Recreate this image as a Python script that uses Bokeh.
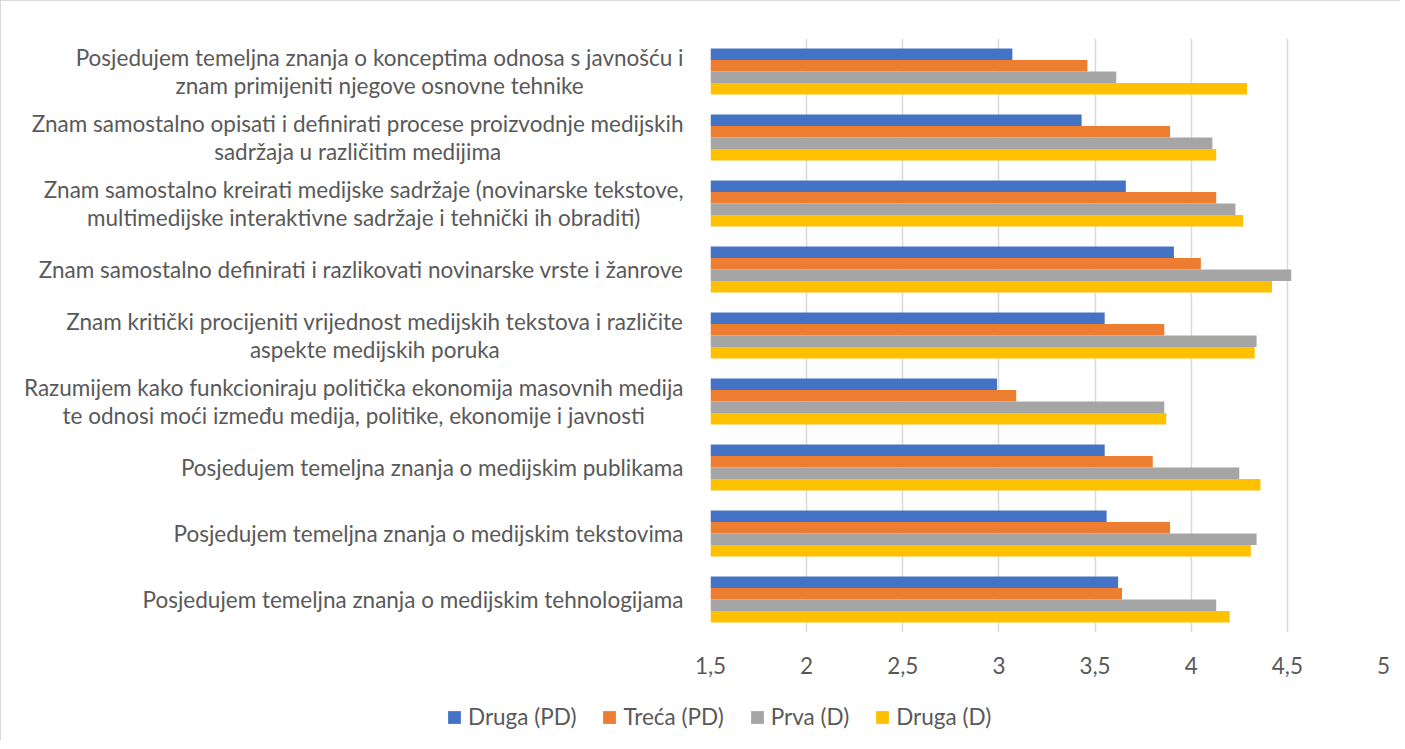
from bokeh.plotting import figure
from bokeh.models import ColumnDataSource, FactorRange, Range1d, FixedTicker, Legend, LegendItem
from bokeh.transform import dodge
from bokeh.core.properties import value
from bokeh.embed import file_html
from bokeh.resources import INLINE

# Categories, listed top to bottom as they appear in the chart
categories = [
    "Posjedujem temeljna znanja o konceptima odnosa s javnošću i\nznam primijeniti njegove osnovne tehnike",
    "Znam samostalno opisati i definirati procese proizvodnje medijskih\nsadržaja u različitim medijima",
    "Znam samostalno kreirati medijske sadržaje (novinarske tekstove,\nmultimedijske interaktivne sadržaje i tehnički ih obraditi)",
    "Znam samostalno definirati i razlikovati novinarske vrste i žanrove",
    "Znam kritički procijeniti vrijednost medijskih tekstova i različite\naspekte medijskih poruka",
    "Razumijem kako funkcioniraju politička ekonomija masovnih medija\nte odnosi moći između medija, politike, ekonomije i javnosti",
    "Posjedujem temeljna znanja o medijskim publikama",
    "Posjedujem temeljna znanja o medijskim tekstovima",
    "Posjedujem temeljna znanja o medijskim tehnologijama",
]

druga_pd = [3.07, 3.43, 3.66, 3.91, 3.55, 2.99, 3.55, 3.56, 3.62]
treca_pd = [3.46, 3.89, 4.13, 4.05, 3.86, 3.09, 3.80, 3.89, 3.64]
prva_d   = [3.61, 4.11, 4.23, 4.52, 4.34, 3.86, 4.25, 4.34, 4.13]
druga_d  = [4.29, 4.13, 4.27, 4.42, 4.33, 3.87, 4.36, 4.31, 4.20]

series_names = ["Druga (PD)", "Treća (PD)", "Prva (D)", "Druga (D)"]
series_colors = ["#4472C4", "#ED7D31", "#A5A5A5", "#FFC000"]

tick_values = [1.5, 2, 2.5, 3, 3.5, 4, 4.5, 5]
tick_labels = ["1,5", "2", "2,5", "3", "3,5", "4", "4,5", "5"]

FONT = "Lato"
FSIZE = "22.5px"
TEXT_COLOR = "#595959"

source = ColumnDataSource(dict(
    cat=categories,
    s0=druga_pd, s1=treca_pd, s2=prva_d, s3=druga_d,
))

p = figure(
    width=1400, height=690,
    y_range=FactorRange(*list(reversed(categories)), range_padding=0),
    x_range=Range1d(1.5, 5),
    output_backend="svg", toolbar_location=None,
    min_border_left=709, min_border_right=18,
    min_border_top=37, min_border_bottom=59,
)
p.styles = {"border-left": "1px solid #d9d9d9", "border-top": "1px solid #d9d9d9"}
p.outline_line_color = None
p.background_fill_color = "white"
p.border_fill_color = "white"

bar_h = 0.175
offsets = [1.5 * bar_h, 0.5 * bar_h, -0.5 * bar_h, -1.5 * bar_h]
for i, (color, off) in enumerate(zip(series_colors, offsets)):
    p.hbar(y=dodge("cat", off, range=p.y_range), left=1.5, right=f"s{i}",
           height=bar_h, source=source, fill_color=color, line_color=None)

# category labels
p.text(x=1.5, y="cat", text="cat", source=source, x_offset=-27,
       anchor="center_right", text_align="center", text_baseline="middle",
       text_font=value(FONT), text_font_size=FSIZE, text_color=TEXT_COLOR,
       text_line_height=1.05, level="overlay")

p.yaxis.visible = False
p.ygrid.grid_line_color = None
p.xgrid.grid_line_color = "#d9d9d9"
p.xgrid.grid_line_width = 1.5
p.xaxis.ticker = FixedTicker(ticks=tick_values)
p.xaxis.major_label_overrides = {v: lab for v, lab in zip(tick_values, tick_labels)}
p.xaxis.axis_line_color = None
p.xaxis.major_tick_line_color = None
p.xaxis.minor_tick_line_color = None
p.xaxis.major_label_standoff = 18
p.xaxis.major_label_text_font = FONT
p.xaxis.major_label_text_font_size = FSIZE
p.xaxis.major_label_text_color = TEXT_COLOR

# legend strip below the chart (separate root so its frame is not aligned to the chart's)
lf = figure(
    width=1400, height=50, x_range=Range1d(0, 1), y_range=Range1d(0, 1),
    output_backend="svg", toolbar_location=None,
    min_border_left=0, min_border_right=0, min_border_top=0, min_border_bottom=0,
)
lf.styles = {"border-left": "1px solid #d9d9d9"}
lf.axis.visible = False
lf.grid.grid_line_color = None
lf.outline_line_color = None
lf.border_fill_color = "white"
legend_items = []
for name, color in zip(series_names, series_colors):
    # zero-width placeholder bar, only used to draw the legend swatch
    r = lf.hbar(y=[0.5], left=[0], right=[0], height=0.5, fill_color=color, line_color=None)
    legend_items.append(LegendItem(label=name, renderers=[r]))

legend = Legend(
    items=legend_items,
    orientation="horizontal",
    location=(445, 10),
    glyph_width=16, glyph_height=16,
    label_standoff=6, spacing=25, padding=0, margin=0,
    label_text_font=FONT, label_text_font_size=FSIZE, label_text_color=TEXT_COLOR,
    border_line_color=None, background_fill_alpha=0,
)
lf.add_layout(legend, "center")

open("out.html", "w").write(file_html([p, lf], INLINE))
